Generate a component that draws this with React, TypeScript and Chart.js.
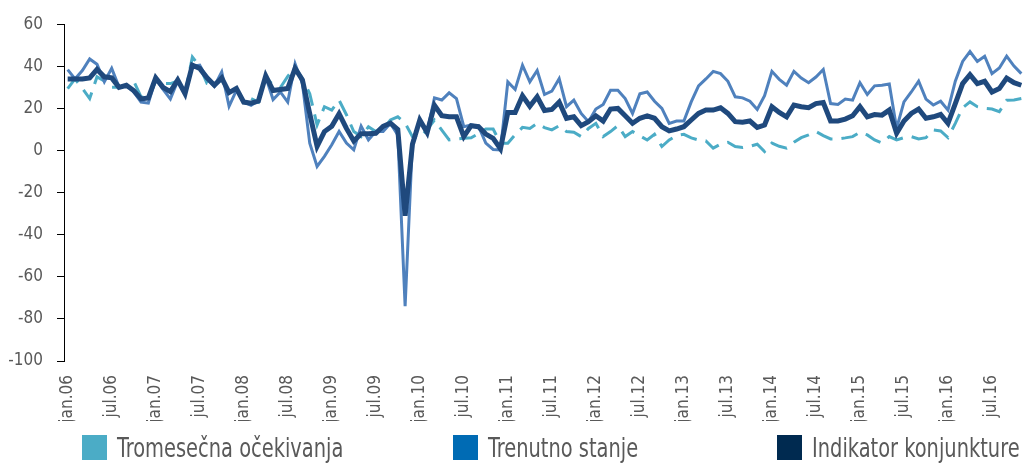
import React, { useEffect, useRef } from "react";
import { Chart, registerables } from "chart.js";

Chart.register(...registerables);

const MONTHS = ["jan", "feb", "mar", "apr", "maj", "jun", "jul", "avg", "sep", "okt", "nov", "dec"];
const START_YEAR = 2006;
const N_POINTS = 131;

const categories: string[] = Array.from({ length: N_POINTS }, (_, i) => {
  const y = START_YEAR + Math.floor(i / 12);
  return `${MONTHS[i % 12]}.${String(y % 100).padStart(2, "0")}`;
});

const tromesecna: number[] = [
  29.4, 34, 29.5, 24.7, 35, 33, 30, 30, 30.5, 33, 25.5, 24.7,
  33, 31.8, 31.8, 33, 27, 44.4, 40, 31.8, 31, 33.7, 28, 29.5,
  23.5, 24.7, 23, 35, 31, 29.9, 35.2, 39.6, 34.1, 27, 12.1, 20.8,
  19.2, 23.9, 17, 9, 6.6, 11.3, 9, 10, 14.5, 16, 13, 6.6,
  6, 10, 14.5, 9.7, 5, 5.5, 5.8, 6, 8, 10.2, 10.2, 3.5,
  3.5, 7.5, 11, 10.5, 12.9, 10.9, 9.8, 11.8, 9, 8.7, 6.6, 10.5,
  12.9, 6.6, 9, 11.8, 6.6, 9, 7, 5, 7.7, 1.9, 5, 7.1,
  7.7, 6, 5, 4.6, 1.1, 3, 3.9, 1.9, 1.4, 2, 3, -0.5,
  3.5, 2, 1.1, 3.9, 6.1, 7.4, 9, 7.1, 5.5, 5.5, 6, 6.6,
  8.7, 7.4, 5, 3.5, 6.6, 5, 6.1, 6.6, 5.5, 6.1, 9.8, 9.3,
  6.1, 12.9, 20.3, 23.1, 20.8, 20, 19.7, 18.4, 23.9, 24, 24.7,
];

const trenutno: number[] = [
  38.4, 34, 38, 43.5, 41, 32.6, 39, 30.2, 31, 27.8, 23, 22.5,
  34, 29, 24.5, 33, 27, 40, 40.5, 34, 30.5, 37.3, 21, 28.6,
  23, 21.5, 23.6, 35, 24.2, 27.8, 23, 41.2, 31.8, 3.5, -7.6, -2.8,
  2.7, 9, 3.5, 0.3, 11.6, 5, 9, 9, 12.9, 7.4, -74, 4,
  14.5, 9, 25, 24, 27.4, 24.7, 11.3, 12.1, 11.6, 3.5, 0.5, 0.3,
  32.6, 29, 40.5, 32.6, 38, 26.6, 28.2, 34.1, 20.8, 23.9, 17.6, 13.7,
  19.7, 21.9, 28.6, 28.6, 24.7, 17.6, 27, 27.8, 23.4, 20, 12.9, 14,
  14, 23.1, 30.7, 34, 37.6, 36.5, 32.9, 25.5, 25, 23.4, 19.5, 26,
  37.6, 33.8, 31, 37.6, 34.4, 32.2, 34.9, 38.5, 22.3, 21.9, 24.4, 23.9,
  32.2, 26.6, 30.7, 31, 31.6, 10.5, 23.1, 27.8, 32.9, 24.4, 21.6, 23.4,
  19.2, 32.9, 42.3, 47, 42.3, 44.8, 36.5, 39.2, 44.8, 40.1, 36.5,
];

const indikator: number[] = [
  34, 34, 34, 34.5, 38.5, 35, 34.5, 30, 31, 28.5, 24.5, 25,
  34.5, 30, 28, 33.5, 27, 40.5, 39, 34.5, 31, 34.5, 27.5, 29.5,
  23, 22.5, 23.5, 35.5, 28.5, 29, 29.5, 39, 33.5, 17.5, 2, 9,
  11.5, 17.5, 10.5, 4.5, 8, 8, 8.2, 11.5, 13, 10, -31, 3,
  14.5, 8.5, 21.5, 16.5, 16, 16, 6.6, 11.8, 11.3, 7.8, 5.8, 0.8,
  18, 18, 26, 21, 25.5, 19, 19.5, 23, 15.3, 16, 11.8, 13.7,
  16.5, 14, 19.7, 20, 16.5, 12.9, 15.3, 16.4, 15.3, 11.3, 9.3, 10.2,
  11.3, 14.5, 17.6, 19.2, 19.2, 20.3, 17.6, 13.7, 13.4, 14, 11, 12.1,
  20.8, 18.1, 16, 21.6, 20.8, 20.3, 22.3, 22.8, 14, 14, 14.9, 16.5,
  20.8, 16, 17.1, 16.8, 19.2, 8.2, 14, 17.6, 19.7, 15.3, 16, 17.1,
  12.9, 22.3, 31.8, 36, 31.8, 32.9, 27.8, 29.4, 34.4, 32.2, 31,
];

const seriesNames = ["Tromesečna očekivanja", "Trenutno stanje", "Indikator konjunkture"];
const lineColors = ["#4bacc6", "#4f81bd", "#1f497d"];
const legendColors = ["#4bacc6", "#006bb4", "#002a50"];

const FONT = "'Liberation Sans Narrow', 'DejaVu Sans Condensed', 'Roboto', sans-serif";
const TEXT = "#595959";

export default function App() {
  const canvasRef = useRef<HTMLCanvasElement | null>(null);

  useEffect(() => {
    if (!canvasRef.current) return;
    const chart = new Chart(canvasRef.current, {
      type: "line",
      data: {
        labels: categories,
        datasets: [
          {
            label: seriesNames[0],
            data: tromesecna,
            borderColor: lineColors[0],
            backgroundColor: legendColors[0],
            borderWidth: 3,
            borderDash: [17, 9],
            pointRadius: 0,
            tension: 0,
            order: 3,
          },
          {
            label: seriesNames[1],
            data: trenutno,
            borderColor: lineColors[1],
            backgroundColor: legendColors[1],
            borderWidth: 3,
            pointRadius: 0,
            tension: 0,
            order: 2,
          },
          {
            label: seriesNames[2],
            data: indikator,
            borderColor: lineColors[2],
            backgroundColor: legendColors[2],
            borderWidth: 5,
            pointRadius: 0,
            tension: 0,
            order: 1,
          },
        ],
      },
      options: {
        animation: false,
        responsive: true,
        maintainAspectRatio: false,
        layout: { padding: { top: 14, right: 2, bottom: 43, left: 0 } },
        plugins: {
          legend: { display: false },
          tooltip: { enabled: false },
        },
        scales: {
          x: {
            type: "category",
            offset: true,
            grid: { display: false, drawTicks: false },
            border: { display: false },
            afterFit: (scale: any) => {
              scale.height = 60;
            },
            ticks: {
              autoSkip: false,
              minRotation: 90,
              maxRotation: 90,
              padding: 14,
              color: TEXT,
              font: { family: FONT, size: 17 },
              callback: function (this: any, _v: any, index: number) {
                return index % 6 === 0 ? categories[index] : null;
              },
            },
          },
          y: {
            min: -100,
            max: 60,
            ticks: {
              stepSize: 20,
              padding: 14,
              color: TEXT,
              font: { family: FONT, size: 17 },
            },
            afterFit: (scale: any) => {
              scale.width = 64;
            },
            grid: {
              drawOnChartArea: false,
              drawTicks: true,
              tickLength: 7,
              color: "#000000",
              lineWidth: 1,
            },
            border: { display: true, color: "#000000", width: 1 },
          },
        },
      },
    });
    return () => chart.destroy();
  }, []);

  const legendLeft = [82, 453, 777];

  return (
    <div style={{ position: "absolute", left: 0, top: 0, width: 1027, height: 464, background: "#fff" }}>
      <canvas ref={canvasRef} />
      {seriesNames.map((name, i) => (
        <div
          key={name}
          style={{
            position: "absolute",
            left: legendLeft[i],
            top: 435,
            display: "flex",
            alignItems: "center",
            height: 25,
            fontFamily: FONT,
            fontSize: 27,
            color: TEXT,
            whiteSpace: "nowrap",
          }}
        >
          <span style={{ display: "inline-block", width: 25, height: 25, background: legendColors[i], marginRight: 10, flex: "none" }} />
          <span style={{ display: "inline-block", transform: "scaleX(0.8)", transformOrigin: "left center", lineHeight: "25px" }}>{name}</span>
        </div>
      ))}
    </div>
  );
}
